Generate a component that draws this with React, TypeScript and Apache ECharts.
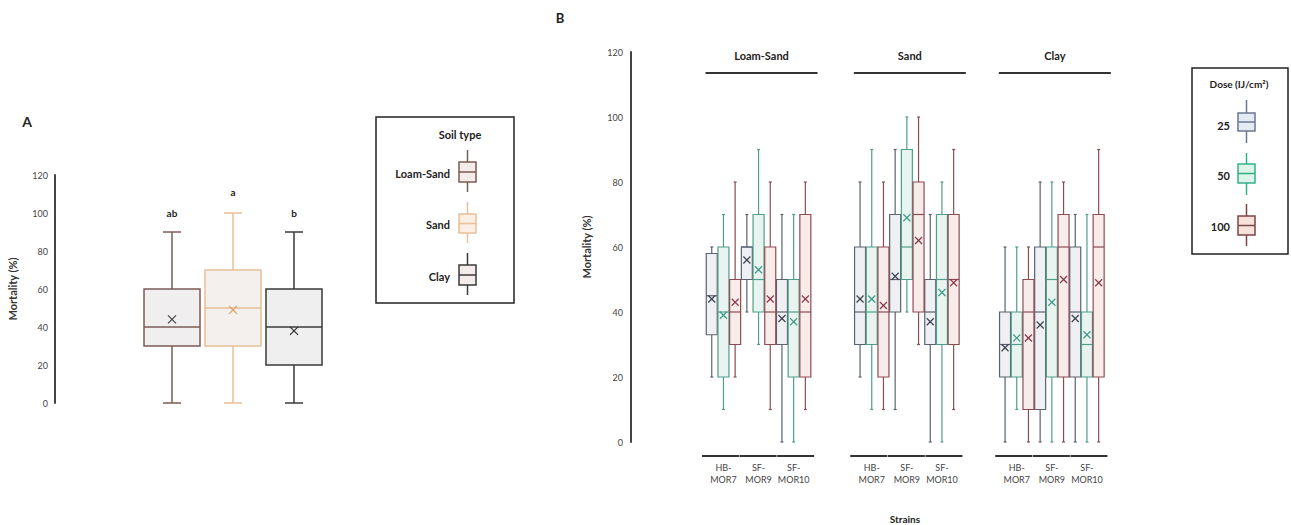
import React, { useEffect, useRef } from 'react';
import * as echarts from 'echarts';

// ---------- DATA ----------
// Panel A: soil types, stats = [min, q1, median, q3, max, mean]
const soils = ['Loam-Sand', 'Sand', 'Clay'];
const soilStats = [
  [0, 30, 40, 60, 90, 44],
  [0, 30, 50, 70, 100, 49],
  [0, 20, 40, 60, 90, 38],
];
const soilLetters = ['ab', 'a', 'b'];
const soilLetterY = [100, 111, 100];

// Panel B: strains x dose per soil, stats = [min, q1, median, q3, max, mean]
const strains = ['HB-\nMOR7', 'SF-\nMOR9', 'SF-\nMOR10'];
const doses = ['25', '50', '100'];

const loamSand25 = [[20, 33, 45, 58, 60, 44], [40, 50, 60, 60, 70, 56], [0, 30, 40, 50, 70, 38]];
const loamSand50 = [[10, 20, 40, 60, 70, 39], [30, 40, 50, 70, 90, 53], [0, 20, 40, 50, 70, 37]];
const loamSand100 = [[20, 30, 40, 50, 80, 43], [10, 30, 40, 60, 80, 44], [10, 20, 40, 70, 80, 44]];

const sand25 = [[20, 30, 40, 60, 80, 44], [10, 40, 50, 70, 90, 51], [0, 30, 40, 50, 70, 37]];
const sand50 = [[10, 30, 40, 60, 90, 44], [40, 50, 60, 90, 100, 69], [0, 30, 50, 70, 80, 46]];
const sand100 = [[10, 20, 40, 60, 80, 42], [30, 40, 70, 80, 100, 62], [10, 30, 50, 70, 90, 49]];

const clay25 = [[0, 20, 30, 40, 60, 29], [0, 10, 40, 60, 80, 36], [0, 20, 40, 60, 70, 38]];
const clay50 = [[10, 20, 30, 40, 60, 32], [0, 20, 50, 60, 80, 43], [0, 20, 30, 40, 70, 33]];
const clay100 = [[0, 10, 40, 50, 60, 32], [0, 20, 60, 70, 80, 50], [0, 20, 60, 70, 90, 49]];

const yTicks = { min: 0, max: 120, interval: 20 };

// ---------- STYLE ----------
const FONT = 'Lato, "Open Sans", sans-serif';
const soilStyle = [
  { stroke: '#7b5b55', fill: '#f0eeee', mean: '#444444' },
  { stroke: '#e9bf98', fill: '#f3f0ee', mean: '#e0a060' },
  { stroke: '#3a3a3a', fill: '#efefef', mean: '#333333' },
];
const doseStyle = [
  { stroke: '#5b6270', fill: '#eef0f3', mean: '#3d4450' },
  { stroke: '#4f9e8c', fill: '#e9f4f0', mean: '#3f9a88' },
  { stroke: '#8e4b52', fill: '#f8eceb', mean: '#8a3a48' },
];
const doseLegendStyle = [
  { stroke: '#6b7890', fill: '#e4ebf4' },
  { stroke: '#33b08a', fill: '#dcf5e8' },
  { stroke: '#7a4545', fill: '#f6e2da' },
];

function boxRender(cfg: {
  nSub: number;
  sub: number;
  widthFrac: number;
  capW: number;
  lw: number;
  xs: number;
  styleFor: (xi: number) => { stroke: string; fill: string; mean: string };
}) {
  return (params: any, api: any) => {
    const xi = api.value(0);
    const mn = api.value(1), q1 = api.value(2), md = api.value(3), q3 = api.value(4), mx = api.value(5), mean = api.value(6);
    const base = api.coord([xi, 0]);
    const band = api.size([1, 0])[0];
    const step = band / cfg.nSub;
    const cx = base[0] + (cfg.sub - (cfg.nSub - 1) / 2) * step;
    const w = step * cfg.widthFrac;
    const Y = (v: number) => api.coord([xi, v])[1];
    const st = cfg.styleFor(xi);
    const ls = { stroke: st.stroke, lineWidth: cfg.lw };
    const ms = { stroke: st.mean, lineWidth: 1.2 };
    const my = Y(mean);
    const h = cfg.capW / 2;
    return {
      type: 'group',
      children: [
        { type: 'line', shape: { x1: cx, y1: Y(mx), x2: cx, y2: Y(q3) }, style: ls },
        { type: 'line', shape: { x1: cx, y1: Y(q1), x2: cx, y2: Y(mn) }, style: ls },
        { type: 'line', shape: { x1: cx - h, y1: Y(mx), x2: cx + h, y2: Y(mx) }, style: ls },
        { type: 'line', shape: { x1: cx - h, y1: Y(mn), x2: cx + h, y2: Y(mn) }, style: ls },
        { type: 'rect', shape: { x: cx - w / 2, y: Y(q3), width: w, height: Y(q1) - Y(q3) }, style: { fill: st.fill, stroke: st.stroke, lineWidth: cfg.lw } },
        { type: 'line', shape: { x1: cx - w / 2, y1: Y(md), x2: cx + w / 2, y2: Y(md) }, style: ls },
        { type: 'line', shape: { x1: cx - cfg.xs, y1: my - cfg.xs, x2: cx + cfg.xs, y2: my + cfg.xs }, style: ms },
        { type: 'line', shape: { x1: cx - cfg.xs, y1: my + cfg.xs, x2: cx + cfg.xs, y2: my - cfg.xs }, style: ms },
      ],
    };
  };
}

function legendIcon(cx: number, yTop: number, yBoxTop: number, yBoxBot: number, yBot: number, w: number, stroke: string, fill: string) {
  const ls = { stroke, lineWidth: 1.5 };
  return [
    { type: 'line', shape: { x1: cx, y1: yTop, x2: cx, y2: yBot }, style: ls },
    { type: 'rect', shape: { x: cx - w / 2, y: yBoxTop, width: w, height: yBoxBot - yBoxTop }, style: { fill, stroke, lineWidth: 1.5 } },
    { type: 'line', shape: { x1: cx - w / 2, y1: (yBoxTop + yBoxBot) / 2, x2: cx + w / 2, y2: (yBoxTop + yBoxBot) / 2 }, style: ls },
  ];
}

export default function App() {
  const ref = useRef<HTMLDivElement>(null);
  useEffect(() => {
    const chart = echarts.init(ref.current!, null, { renderer: 'svg' });

    // layout
    const aLeft = 141.5, aWidth = 183, aTop = 175, aHeight = 228, aAxisX = 55;
    const bTop = 52, bHeight = 390, bAxisX = 631;
    const bBand = 35.1;
    const bLefts = [705.9, 854.2, 999.2];
    const bWidth = bBand * 3;

    const panelBData = [
      [loamSand25, loamSand50, loamSand100],
      [sand25, sand50, sand100],
      [clay25, clay50, clay100],
    ];

    const grids: any[] = [{ left: aLeft, top: aTop, width: aWidth, height: aHeight }];
    bLefts.forEach((l) => grids.push({ left: l, top: bTop, width: bWidth, height: bHeight }));

    const xAxes: any[] = [
      { type: 'category', gridIndex: 0, data: soils, show: false },
    ];
    bLefts.forEach((_, g) =>
      xAxes.push({
        type: 'category',
        gridIndex: g + 1,
        data: strains,
        axisLine: { show: false },
        axisTick: { show: false },
        axisLabel: { interval: 0, color: '#444', fontSize: 9, lineHeight: 12, margin: 19, fontFamily: FONT },
      })
    );

    const yAxes: any[] = [
      {
        type: 'value', gridIndex: 0, ...yTicks, offset: aLeft - aAxisX,
        name: 'Mortality (%)', nameLocation: 'middle', nameGap: 37,
        nameTextStyle: { fontSize: 11, fontWeight: 'bold', color: '#333', fontFamily: FONT },
        axisLine: { show: true, lineStyle: { color: '#444', width: 2 } },
        axisTick: { show: false },
        splitLine: { show: false },
        axisLabel: { fontSize: 9, color: '#444', margin: 7, fontFamily: FONT },
      },
    ];
    bLefts.forEach((l, g) => {
      if (g === 0) {
        yAxes.push({
          type: 'value', gridIndex: 1, ...yTicks, offset: l - bAxisX,
          name: 'Mortality (%)', nameLocation: 'middle', nameGap: 39,
          nameTextStyle: { fontSize: 11, fontWeight: 'bold', color: '#333', fontFamily: FONT },
          axisLine: { show: true, lineStyle: { color: '#444', width: 2 } },
          axisTick: { show: false },
          splitLine: { show: false },
          axisLabel: { fontSize: 9, color: '#444', margin: 8, fontFamily: FONT },
        });
      } else {
        yAxes.push({ type: 'value', gridIndex: g + 1, ...yTicks, show: false, splitLine: { show: false } });
      }
    });

    const series: any[] = [
      {
        type: 'custom',
        xAxisIndex: 0,
        yAxisIndex: 0,
        data: soilStats.map((s, i) => [i, ...s]),
        renderItem: boxRender({ nSub: 1, sub: 0, widthFrac: 56 / 61, capW: 18, lw: 1.5, xs: 4, styleFor: (xi) => soilStyle[xi] }),
      },
      {
        type: 'custom',
        xAxisIndex: 0,
        yAxisIndex: 0,
        data: soilLetterY.map((y, i) => [i, y]),
        renderItem: (params: any, api: any) => {
          const xi = api.value(0);
          const p = api.coord([xi, api.value(1)]);
          return {
            type: 'text',
            style: { text: soilLetters[xi], x: p[0], y: p[1], font: `bold 10px ${FONT}`, fill: '#222222', textAlign: 'center', textVerticalAlign: 'middle' },
          };
        },
      },
    ];
    panelBData.forEach((perDose, g) => {
      perDose.forEach((arr, d) => {
        series.push({
          type: 'custom',
          name: doses[d],
          xAxisIndex: g + 1,
          yAxisIndex: g + 1,
          data: arr.map((s, i) => [i, ...s]),
          renderItem: boxRender({ nSub: 3, sub: d, widthFrac: 0.94, capW: 3, lw: 1.2, xs: 3.5, styleFor: () => doseStyle[d] }),
        });
      });
    });

    // graphics
    const graphic: any[] = [
      { type: 'text', style: { text: 'A', x: 27, y: 121, font: `bold 14px ${FONT}`, fill: '#222', textAlign: 'center', textVerticalAlign: 'middle' } },
      { type: 'text', style: { text: 'B', x: 560, y: 18, font: `bold 13px ${FONT}`, fill: '#222', textAlign: 'center', textVerticalAlign: 'middle' } },
      // legend A
      { type: 'rect', shape: { x: 376, y: 117, width: 138, height: 186 }, style: { fill: 'none', stroke: '#222', lineWidth: 1.5 } },
      { type: 'text', style: { text: 'Soil type', x: 460, y: 134, font: `bold 11px ${FONT}`, fill: '#222', textAlign: 'center', textVerticalAlign: 'middle' } },
      // legend B
      { type: 'rect', shape: { x: 1192, y: 68, width: 96, height: 186 }, style: { fill: 'none', stroke: '#222', lineWidth: 1.5 } },
      { type: 'text', style: { text: 'Dose (IJ/cm²)', x: 1239, y: 84, font: `bold 10px ${FONT}`, fill: '#222', textAlign: 'center', textVerticalAlign: 'middle' } },
      { type: 'text', style: { text: 'Strains', x: 905, y: 519, font: `bold 10px ${FONT}`, fill: '#222', textAlign: 'center', textVerticalAlign: 'middle' } },
    ];
    const aLeg = [
      { ly: 173, top: 150, bt: 162, bb: 182, bot: 192 },
      { ly: 224, top: 202, bt: 214, bb: 233, bot: 243 },
      { ly: 276, top: 253, bt: 265, bb: 285, bot: 295 },
    ];
    aLeg.forEach((p, i) => {
      graphic.push({ type: 'text', style: { text: soils[i], x: 450, y: p.ly, font: `bold 11px ${FONT}`, fill: '#222', textAlign: 'right', textVerticalAlign: 'middle' } });
      legendIcon(467.5, p.top, p.bt, p.bb, p.bot, 17, soilStyle[i].stroke, i === 1 ? '#fbeee2' : '#f3ecea').forEach((e) => graphic.push(e));
    });
    const bLeg = [
      { ly: 125, top: 100, bt: 113, bb: 131, bot: 143 },
      { ly: 175, top: 153, bt: 164, bb: 183, bot: 195 },
      { ly: 226, top: 204, bt: 216, bb: 235, bot: 246 },
    ];
    bLeg.forEach((p, i) => {
      graphic.push({ type: 'text', style: { text: doses[i], x: 1230, y: p.ly, font: `bold 11px ${FONT}`, fill: '#222', textAlign: 'right', textVerticalAlign: 'middle' } });
      legendIcon(1246.5, p.top, p.bt, p.bb, p.bot, 17, doseLegendStyle[i].stroke, doseLegendStyle[i].fill).forEach((e) => graphic.push(e));
    });
    // soil titles and strain underlines in panel B
    bLefts.forEach((l, g) => {
      const c = l + bWidth / 2 + 3;
      graphic.push({ type: 'text', style: { text: soils[g], x: c, y: 55, font: `bold 11px ${FONT}`, fill: '#222', textAlign: 'center', textVerticalAlign: 'middle' } });
      graphic.push({ type: 'line', shape: { x1: c - 56, y1: 73, x2: c + 56, y2: 73 }, style: { stroke: '#333', lineWidth: 1.8 } });
      strains.forEach((_, s) => {
        const sc = l + (s + 0.5) * bBand - 3 + s * 2.5;
        graphic.push({ type: 'line', shape: { x1: sc - 18.5, y1: 456, x2: sc + 18.5, y2: 456 }, style: { stroke: '#333', lineWidth: 1.8 } });
      });
    });

    chart.setOption({
      animation: false,
      backgroundColor: '#ffffff',
      textStyle: { fontFamily: FONT },
      grid: grids,
      xAxis: xAxes,
      yAxis: yAxes,
      series,
      graphic,
    });
    return () => chart.dispose();
  }, []);
  return <div ref={ref} style={{ position: 'absolute', left: 0, top: 0, width: 1291, height: 525 }} />;
}
